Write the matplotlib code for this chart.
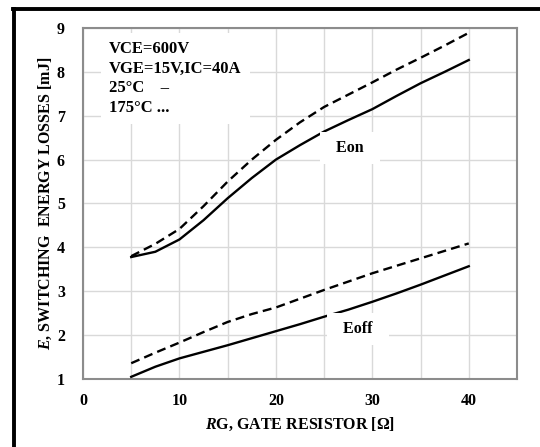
import matplotlib
matplotlib.use('Agg')
import matplotlib.pyplot as plt
from matplotlib.lines import Line2D

plt.rcParams['font.family'] = ['Liberation Serif', 'DejaVu Serif']
plt.rcParams['font.weight'] = 'bold'
plt.rcParams['mathtext.fontset'] = 'custom'
plt.rcParams['mathtext.rm'] = 'Liberation Serif:bold'
plt.rcParams['mathtext.it'] = 'Liberation Serif:bold:italic'
plt.rcParams['mathtext.bf'] = 'Liberation Serif:bold'

# gate resistance [ohm]
rg = [5, 7.5, 10, 12.5, 15, 17.5, 20, 22.5, 25, 27.5, 30, 32.5, 35, 37.5, 40]
# switching energies [mJ]
eon_25 = [3.78, 3.90, 4.18, 4.62, 5.12, 5.58, 6.00, 6.33, 6.64, 6.90, 7.15, 7.45, 7.74, 8.00, 8.27]
eon_175 = [3.80, 4.08, 4.42, 4.94, 5.50, 6.00, 6.45, 6.85, 7.20, 7.48, 7.76, 8.05, 8.32, 8.60, 8.89]
eoff_25 = [1.05, 1.28, 1.47, 1.62, 1.77, 1.93, 2.09, 2.25, 2.42, 2.58, 2.76, 2.95, 3.15, 3.36, 3.57]
eoff_175 = [1.36, 1.60, 1.83, 2.07, 2.30, 2.48, 2.63, 2.83, 3.03, 3.22, 3.41, 3.58, 3.75, 3.92, 4.09]

xticks = [0, 10, 20, 30, 40]
yticks = [1, 2, 3, 4, 5, 6, 7, 8, 9]
cond_text = 'VCE=600V\nVGE=15V,IC=40A\n25\u00b0C    \u2013\n175\u00b0C ...'

fig = plt.figure(figsize=(5.4, 4.47), dpi=100)
ax = fig.add_axes([0.1537, 0.1521, 0.8037, 0.7853])

dash = (0, (3.8, 2.2))
ax.plot(rg, eon_25, color='black', lw=1.7, zorder=3)
ax.plot(rg, eon_175, color='black', lw=1.7, linestyle=dash, zorder=3)
ax.plot(rg, eoff_25, color='black', lw=1.7, zorder=3)
ax.plot(rg, eoff_175, color='black', lw=1.7, linestyle=dash, zorder=3)

ax.set_xlim(0, 45)
ax.set_ylim(1, 9)
ax.set_xticks(xticks)
ax.set_xticks([5, 15, 25, 35, 45], minor=True)
ax.set_yticks(yticks)
ax.grid(True, which='both', color='#d9d9d9', lw=1.0, zorder=0)
ax.set_axisbelow(True)
ax.tick_params(axis='both', which='both', length=0, labelsize=11.5)
ax.tick_params(axis='x', pad=10)
ax.tick_params(axis='y', pad=13)
for sp in ax.spines.values():
    sp.set_color('#8c8c8c')
    sp.set_linewidth(1.5)

ax.set_xlabel(r'$\mathit{R}\mathrm{G{,}\ GATE\ RESISTOR\ [\Omega]}$', fontsize=11.5)
ax.xaxis.set_label_coords(0.5, -0.105)
ax.set_ylabel(r'$\mathit{E}\mathrm{{,}\ SWITCHING\ \ ENERGY\ LOSSES\ [mJ]}$', fontsize=11.5)
ax.yaxis.set_label_coords(-0.066, 0.5)

box = dict(boxstyle='square,pad=0.5', facecolor='white', edgecolor='none')
ax.text(2.7, 8.7, cond_text, fontsize=12, va='top', ha='left',
        linespacing=1.3, bbox=box, zorder=4)
ax.text(27.7, 6.27, '  Eon  ', fontsize=11.5, va='center', ha='center',
        bbox=box, zorder=4)
ax.text(28.5, 2.13, '  Eoff  ', fontsize=11.5, va='center', ha='center',
        bbox=box, zorder=4)

# frame lines of the original picture
fig.add_artist(Line2D([14 / 540, 14 / 540], [0, 1 - 9 / 447], color='black',
                      lw=2.8, transform=fig.transFigure))
fig.add_artist(Line2D([12.6 / 540, 1], [1 - 9 / 447, 1 - 9 / 447], color='black',
                      lw=2.8, transform=fig.transFigure))

fig.savefig('out.png', dpi=100)
